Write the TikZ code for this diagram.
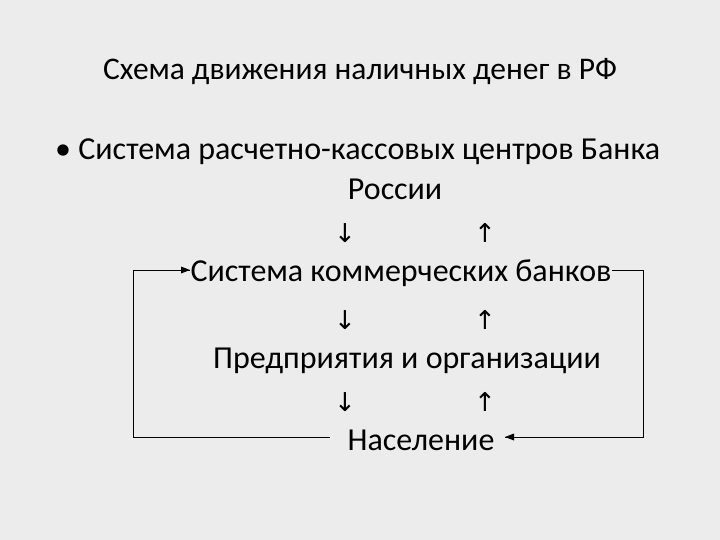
\documentclass[tikz,border=0pt]{standalone}
\usepackage{fontspec}
\setmainfont{Carlito}
\newfontfamily\arrowfont{DejaVu Sans}
\usetikzlibrary{arrows.meta}
\definecolor{bg}{RGB}{236,236,236}
\tikzset{txt/.style={font=\fontsize{32}{34}\selectfont, inner sep=0pt, anchor=base},
 arr/.style={font=\arrowfont\fontsize{26}{28}\selectfont, inner sep=0pt, anchor=base},
 conn/.style={line width=1pt, draw=black}}
\begin{document}
\begin{tikzpicture}[x=1pt,y=-1pt]
\fill[bg] (0,0) rectangle (720,540);
\useasboundingbox (0,0) rectangle (720,540);
\node[txt, font=\fontsize{31.5}{33}\selectfont] (title) at (360,80) {Схема движения наличных денег в РФ};
\node[txt, anchor=base west] (l1) at (55,160) {• Система расчетно-кассовых центров Банка};
\node[txt] (l2) at (395,200) {России};
\node[arr] (d1) at (345,243) {↓};
\node[arr] (u1) at (485,243) {↑};
\node[txt] (l3) at (401,281) {Система коммерческих банков};
\node[arr] (d2) at (345,329) {↓};
\node[arr] (u2) at (485,329) {↑};
\node[txt] (l4) at (407,368) {Предприятия и организации};
\node[arr] (d3) at (345,411) {↓};
\node[arr] (u3) at (485,411) {↑};
\node[txt] (l5) at (421,450) {Население};
\coordinate (a1) at (133,270);
\coordinate (a2) at (133,437);
\coordinate (a3) at (330,437);
\coordinate (b1) at (612,270);
\coordinate (b2) at (643,270);
\coordinate (b3) at (643,437);
\coordinate (b4) at (505,437);
\coordinate (a0) at (190,270);
\draw[conn] (a3) -- (a2) -- (a1) -- (a0);
\fill (a0) -- ++(-9,-3.5) -- ++(0,7) -- cycle;
\draw[conn] (b1) -- (b2) -- (b3) -- (b4);
\fill (b4) -- ++(9,-3.5) -- ++(0,7) -- cycle;
\end{tikzpicture}
\end{document}
